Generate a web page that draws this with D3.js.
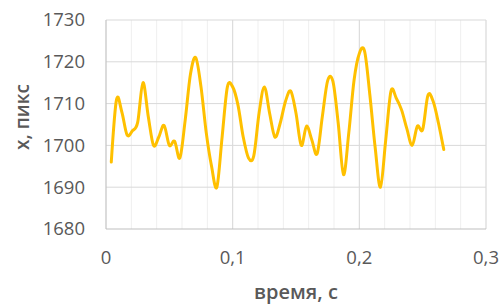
<!DOCTYPE html>
<html>
<head>
<meta charset="utf-8">
<script src="https://cdn.jsdelivr.net/npm/d3@7"></script>
<style>
  body { margin: 0; background: #fff; }
  text { font-family: "Open Sans", "Noto Sans", sans-serif; fill: #595959; }
</style>
</head>
<body>
<script>
// frame index (1/240 s step) and measured x position, px
let frames = d3.range(1, 65)
let xValues = [
	1696, 1711, 1708, 1702.5, 1703.5, 1705.5, 1715, 1707, 1700, 1702,
	1704.8, 1700, 1701, 1697, 1706, 1717, 1721, 1714, 1703, 1695,
	1690, 1702, 1714, 1714, 1709.7, 1702, 1697, 1697.5, 1707.7, 1714,
	1707.7, 1702, 1705.3, 1710.5, 1713, 1707.7, 1700, 1704.6, 1701.3, 1698,
	1707, 1715.5, 1715.3, 1705.3, 1693, 1703, 1715.6, 1722, 1722.5, 1712,
	1699.5, 1690, 1701.3, 1713, 1711.3, 1708.5, 1704, 1700, 1704.6, 1703.8,
	1712, 1710.5, 1705.3, 1699
]
let yTicks = [1680, 1690, 1700, 1710, 1720, 1730]
let tTicks = [0, 0.1, 0.2, 0.3]
let tMinor = d3.range(0, 16).map(i => i * 0.02)

let W = 500, H = 305
let margin = {left: 106, right: 14, top: 20, bottom: 76}

let svg = d3.select('body').append('svg').attr('width', W).attr('height', H)

let x = d3.scaleLinear().domain([0, 0.3]).range([margin.left, W - margin.right])
let y = d3.scaleLinear().domain([1680, 1730]).range([H - margin.bottom, margin.top])

// minor vertical grid
svg.append('g').selectAll('line').data(tMinor).join('line')
	.attr('x1', d => x(d)).attr('x2', d => x(d))
	.attr('y1', y(1680)).attr('y2', y(1730))
	.style('stroke', '#efefef').attr('stroke-width', 1)

// major grid
svg.append('g').selectAll('line').data(tTicks.slice(1)).join('line')
	.attr('x1', d => x(d)).attr('x2', d => x(d))
	.attr('y1', y(1680)).attr('y2', y(1730))
	.style('stroke', '#d9d9d9').attr('stroke-width', 1)
svg.append('g').selectAll('line').data(yTicks.slice(1)).join('line')
	.attr('x1', x(0)).attr('x2', x(0.3))
	.attr('y1', d => y(d)).attr('y2', d => y(d))
	.style('stroke', '#d9d9d9').attr('stroke-width', 1)

// axis lines
svg.append('line').attr('x1', x(0)).attr('x2', x(0.3))
	.attr('y1', y(1680)).attr('y2', y(1680))
	.style('stroke', '#bfbfbf').attr('stroke-width', 1)
svg.append('line').attr('x1', x(0)).attr('x2', x(0))
	.attr('y1', y(1680)).attr('y2', y(1730))
	.style('stroke', '#bfbfbf').attr('stroke-width', 1)

// tick labels
svg.append('g').selectAll('text').data(yTicks).join('text')
	.attr('x', 85).attr('y', d => y(d))
	.attr('dy', '0.35em').attr('text-anchor', 'end')
	.style('font-size', '18.5px')
	.text(d => d)
svg.append('g').selectAll('text').data(tTicks).join('text')
	.attr('x', d => x(d)).attr('y', 258)
	.attr('dy', '0.35em').attr('text-anchor', 'middle')
	.style('font-size', '18.5px')
	.text(d => d3.format('.1~f')(d).replace('.', ','))

// axis titles
svg.append('text').attr('x', (x(0) + x(0.3)) / 2).attr('y', 299)
	.attr('text-anchor', 'middle')
	.style('font-size', '20px').style('font-weight', 600)
	.text('время, с')
svg.append('text')
	.attr('transform', 'translate(29, 117) rotate(-90)')
	.attr('text-anchor', 'middle')
	.style('font-size', '19px').style('font-weight', 600)
	.text('x, пикс')

// data line
let line = d3.line()
	.x((d, i) => x(frames[i] / 240))
	.y(d => y(d))
	.curve(d3.curveCatmullRom.alpha(0))

svg.append('path')
	.attr('d', line(xValues))
	.attr('fill', 'none')
	.style('stroke', '#ffc000')
	.attr('stroke-width', 3)
	.attr('stroke-linejoin', 'round')
	.attr('stroke-linecap', 'round')
</script>
</body>
</html>
